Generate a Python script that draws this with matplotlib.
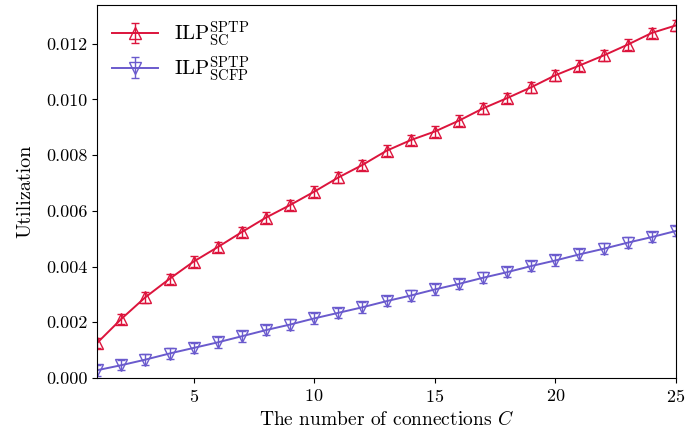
import matplotlib
matplotlib.use("Agg")
import matplotlib.pyplot as plt

plt.rcParams['font.family'] = ['cmr10', 'DejaVu Serif']
plt.rcParams['mathtext.fontset'] = 'cm'
plt.rcParams['axes.formatter.use_mathtext'] = True

conns = list(range(1, 26))
util_sc = [0.00126, 0.00212, 0.00290, 0.00356, 0.00418, 0.00470, 0.00524, 0.00576,
           0.00621, 0.00669, 0.00720, 0.00765, 0.00816, 0.00854, 0.00885, 0.00924,
           0.00968, 0.01005, 0.01044, 0.01087, 0.01122, 0.01158, 0.01197, 0.01239,
           0.01266]
util_scfp = [0.00028, 0.00046, 0.00066, 0.00088, 0.00108, 0.00128, 0.00150, 0.00172,
             0.00192, 0.00214, 0.00234, 0.00254, 0.00276, 0.00296, 0.00318, 0.00338,
             0.00360, 0.00380, 0.00402, 0.00422, 0.00444, 0.00464, 0.00486, 0.00506,
             0.00528]
err = 0.00019

fig = plt.figure(figsize=(6.99, 4.36), dpi=100)
ax = fig.add_axes([0.139, 0.133, 0.828, 0.856])

ax.errorbar(conns, util_sc, yerr=err, color='#dc143c', marker='^', markersize=9,
            markerfacecolor='none', markeredgewidth=1.0, lw=1.4, elinewidth=1.0,
            capsize=3, label=r'$\mathrm{ILP}^{\mathrm{SPTP}}_{\mathrm{SC}}$')
ax.errorbar(conns, util_scfp, yerr=err, color='#6a5acd', marker='v', markersize=9,
            markerfacecolor='none', markeredgewidth=1.0, lw=1.4, elinewidth=1.0,
            capsize=3, label=r'$\mathrm{ILP}^{\mathrm{SPTP}}_{\mathrm{SCFP}}$')

ax.set_xlim(1, 25)
ax.set_ylim(0, 0.0134)
ax.set_xticks([5, 10, 15, 20, 25])
ax.set_yticks([0, 0.002, 0.004, 0.006, 0.008, 0.010, 0.012])
ax.set_yticklabels(['0.000', '0.002', '0.004', '0.006', '0.008', '0.010', '0.012'])
ax.tick_params(labelsize=13)
ax.set_xlabel(r'The number of connections $C$', fontsize=14)
ax.set_ylabel('Utilization', fontsize=14.5, labelpad=8)
ax.legend(loc='upper left', frameon=False, fontsize=15, handlelength=2.2,
          labelspacing=0.25, borderaxespad=0.3)

fig.savefig('out.png', dpi=100)
